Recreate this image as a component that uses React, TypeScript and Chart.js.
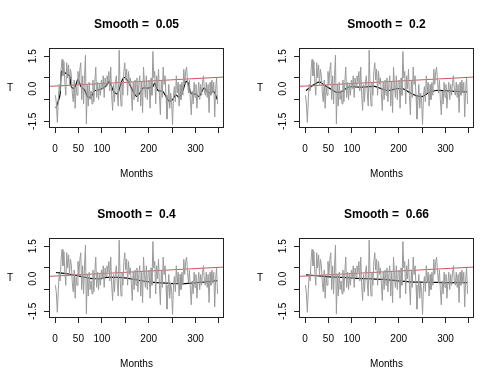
import React, { useEffect, useRef } from "react";
import { Chart, registerables } from "chart.js";

Chart.register(...registerables);

// Monthly temperature anomaly (every second month)
const grayT: number[] = [
  -0.3, -0.7, -1.55, -0.5, 0.2, -0.1, 0.9, 1.35, 0.6, 1.25,
  0.3, -0.3, 1.2, 0.5, 1.1, 0.2, 0.9, 0.6, -0.2, -0.6,
  0.4, -0.9, 0.1, -0.3, 0.8, 0.2, 0.9, 1.2, -0.5, 0.6,
  -0.7, 0.6, 1.55, -1.62, 0.2, -0.8, 0.3, -0.5, -0.1, -0.7,
  0.4, -0.6, 0.3, 1.0, -0.4, 0.3, -0.5, 0.2, -0.3, 0.4,
  0.0, 0.6, -0.4, 0.5, 0.1, 0.6, 0.3, 0.8, -0.1, 1.0,
  -0.3, -1.0, 0.2, -0.6, 0.3, 0.6, -0.2, -0.8, 1.78, 0.0,
  -0.8, 0.3, -0.3, 0.8, 1.2, 0.4, 0.9, -0.3, 0.8, 0.2,
  0.5, -0.2, -1.0, 0.3, -0.5, 0.4, -0.3, 0.5, -0.6, 0.2,
  0.6, -0.8, 0.3, -1.1, 1.0, 0.2, -0.4, 0.6, -0.5, 0.3,
  0.4, -0.9, 0.5, -0.3, 1.72, 0.5, 0.8, -0.7, 0.6, 0.0,
  0.9, -0.3, -1.2, 0.4, -0.4, 1.0, 0.2, 0.6, -0.3, -1.4,
  -0.7, 0.2, -0.9, -0.2, -0.6, -1.65, -0.3, 0.1, -0.6, 0.6,
  -0.2, 0.3, -0.8, 0.2, -0.5, 0.3, -0.3, 0.9, 0.2, 0.8,
  1.0, 0.3, -0.2, 0.4, -0.5, -1.2, -0.1, -0.7, 0.3, -0.4,
  0.2, -0.9, -0.2, 0.3, -0.5, 0.2, -0.3, 0.3, 0.6, -0.1,
  -0.3, 0.3, -0.4, 0.2, -1.1, 0.3, -0.3, 0.4, -0.2, 0.3,
  -1.3, 0.0, 0.5, -0.7,
];
const grayMonths: number[] = grayT.map((_, i) => 1 + 2 * i);

// Linear trend (red)
const trendX: number[] = [-12.84, 360.84];
const trendY: number[] = [0.11, 0.54];

// Lowess smooths (black)
const smooth005X = [2, 10.6, 14, 22.5, 31, 35, 41.5, 49, 56, 63, 70, 77, 84, 93, 103.5, 110.6, 116, 125, 133, 140, 147, 156, 165, 174, 181, 188, 198.6, 209, 212.7, 220, 230, 237, 244, 251, 258, 265, 272.5, 279.6, 284.5, 290, 300.7, 307.7, 318, 325, 332, 339, 346.5];
const smooth005Y = [-0.89, -0.28, 0.8, 0.72, 0.6, 0.08, 0.03, 0.42, 0.08, -0.05, -0.38, -0.38, -0.1, -0.05, 0.03, 0.18, 0.34, -0.12, -0.23, 0.18, 0.52, 0.34, -0.05, -0.35, -0.2, 0.03, 0.03, 0.1, 0.26, -0.08, -0.12, -0.35, -0.58, -0.5, -0.28, -0.4, -0.12, 0.34, 0.26, -0.2, -0.25, -0.35, 0.03, -0.12, -0.2, -0.12, -0.5];
const smooth02X = [2, 15.5, 31, 40, 54, 68, 79, 93, 110.6, 128, 149, 163, 177.5, 195, 209, 223, 237, 251, 265, 279.6, 300.7, 322, 346.5];
const smooth02Y = [-0.08, 0.14, 0.32, 0.18, 0, -0.17, -0.12, 0.08, 0.08, 0.08, 0.11, 0, -0.08, 0, 0, -0.17, -0.32, -0.35, -0.17, -0.08, -0.09, -0.12, -0.15];
const smooth04X = [2, 26, 54, 75, 86, 96.5, 110.6, 131.7, 153, 181, 209, 237, 265, 293.7, 322, 346.5];
const smooth04Y = [0.29, 0.23, 0.11, 0.02, 0, 0, 0.06, 0.06, 0.03, -0.08, -0.17, -0.2, -0.23, -0.2, -0.14, -0.09];
const smooth066X = [2, 26, 54, 82, 110.6, 139, 167, 195, 223, 251, 279.6, 307.7, 346.5];
const smooth066Y = [0.18, 0.14, 0.09, 0.06, 0.02, 0, -0.03, -0.09, -0.14, -0.16, -0.17, -0.18, -0.18];

const smoothLabels = ["0.05", "0.2", "0.4", "0.66"];
const smoothXs = [smooth005X, smooth02X, smooth04X, smooth066X];
const smoothYs = [smooth005Y, smooth02Y, smooth04Y, smooth066Y];

const xTicks = [0, 50, 100, 150, 200, 250, 300, 350];
const xTickLabels = ["0", "50", "100", "", "200", "", "300", ""];
const yTicks = [-1.5, -1, -0.5, 0, 0.5, 1, 1.5];
const yTickLabels = ["-1.5", "", "", "0.0", "", "", "1.5"];

const FONT = "'Liberation Sans', Arial, Helvetica, sans-serif";

function Panel({ index }: { index: number }) {
  const ref = useRef<HTMLCanvasElement | null>(null);
  useEffect(() => {
    if (!ref.current) return;
    const title = "Smooth =  " + smoothLabels[index];
    const deco = {
      id: "deco",
      afterDraw(chart: any) {
        const ctx = chart.ctx;
        const a = chart.chartArea;
        const ys = chart.scales.y;
        ctx.save();
        ctx.strokeStyle = "#222";
        ctx.lineWidth = 1;
        ctx.strokeRect(a.left + 0.5, a.top + 0.5, a.right - a.left - 1, a.bottom - a.top - 1);
        ctx.fillStyle = "#000";
        ctx.textAlign = "center";
        ctx.textBaseline = "middle";
        ctx.font = "bold 12px " + FONT;
        ctx.fillText(title, (a.left + a.right) / 2, 25);
        ctx.font = "10px " + FONT;
        ctx.fillText("Months", (a.left + a.right) / 2, 174);
        ctx.fillText("T", 10, (a.top + a.bottom) / 2);
        yTicks.forEach((v, i) => {
          const lab = yTickLabels[i];
          if (!lab) return;
          const py = ys.getPixelForValue(v);
          ctx.save();
          ctx.translate(33, py);
          ctx.rotate(-Math.PI / 2);
          ctx.fillText(lab, 0, 0);
          ctx.restore();
        });
        ctx.restore();
      },
    };
    const chart = new Chart(ref.current, {
      type: "line",
      data: {
        datasets: [
          {
            data: grayMonths.map((m, i) => ({ x: m, y: grayT[i] })),
            borderColor: "#9a9a9a",
            borderWidth: 1,
            pointRadius: 0,
            tension: 0,
          },
          {
            data: trendX.map((m, i) => ({ x: m, y: trendY[i] })),
            borderColor: "#D9505E",
            borderWidth: 1,
            pointRadius: 0,
          },
          {
            data: smoothXs[index].map((m, i) => ({ x: m, y: smoothYs[index][i] })),
            borderColor: "#000",
            borderWidth: 1.2,
            pointRadius: 0,
            tension: 0.3,
          },
        ],
      },
      options: {
        animation: false,
        responsive: false,
        devicePixelRatio: 1,
        events: [],
        layout: { padding: { left: 0, top: 48, right: 26, bottom: 0 } },
        plugins: { legend: { display: false }, tooltip: { enabled: false }, title: { display: false } },
        scales: {
          x: {
            type: "linear",
            min: -12.84,
            max: 360.84,
            afterBuildTicks: (s: any) => {
              s.ticks = xTicks.map((v) => ({ value: v }));
            },
            afterFit: (s: any) => {
              s.height = 62;
            },
            ticks: {
              autoSkip: false,
              maxRotation: 0,
              minRotation: 0,
              padding: 10,
              color: "#000",
              font: { size: 10, family: FONT },
              callback: (v: any) => {
                const i = xTicks.indexOf(Number(v));
                return i >= 0 ? xTickLabels[i] : "";
              },
            },
            grid: { drawOnChartArea: false, drawTicks: true, tickLength: 5, color: "#222" },
            border: { display: false },
          },
          y: {
            type: "linear",
            min: -1.81,
            max: 1.88,
            afterBuildTicks: (s: any) => {
              s.ticks = yTicks.map((v) => ({ value: v }));
            },
            afterFit: (s: any) => {
              s.width = 49;
            },
            ticks: { callback: () => "", font: { size: 10, family: FONT } },
            grid: { drawOnChartArea: false, drawTicks: true, tickLength: 5, color: "#222" },
            border: { display: false },
          },
        },
      },
      plugins: [deco],
    } as any);
    return () => chart.destroy();
  }, [index]);
  return <canvas ref={ref} width={250} height={190} style={{ display: "block", width: 250, height: 190 }} />;
}

export default function App() {
  return (
    <div
      style={{
        position: "absolute",
        left: 0,
        top: 0,
        width: 500,
        height: 380,
        background: "#fff",
        display: "grid",
        gridTemplateColumns: "250px 250px",
        gridTemplateRows: "190px 190px",
      }}
    >
      {[0, 1, 2, 3].map((i) => (
        <Panel key={i} index={i} />
      ))}
    </div>
  );
}
